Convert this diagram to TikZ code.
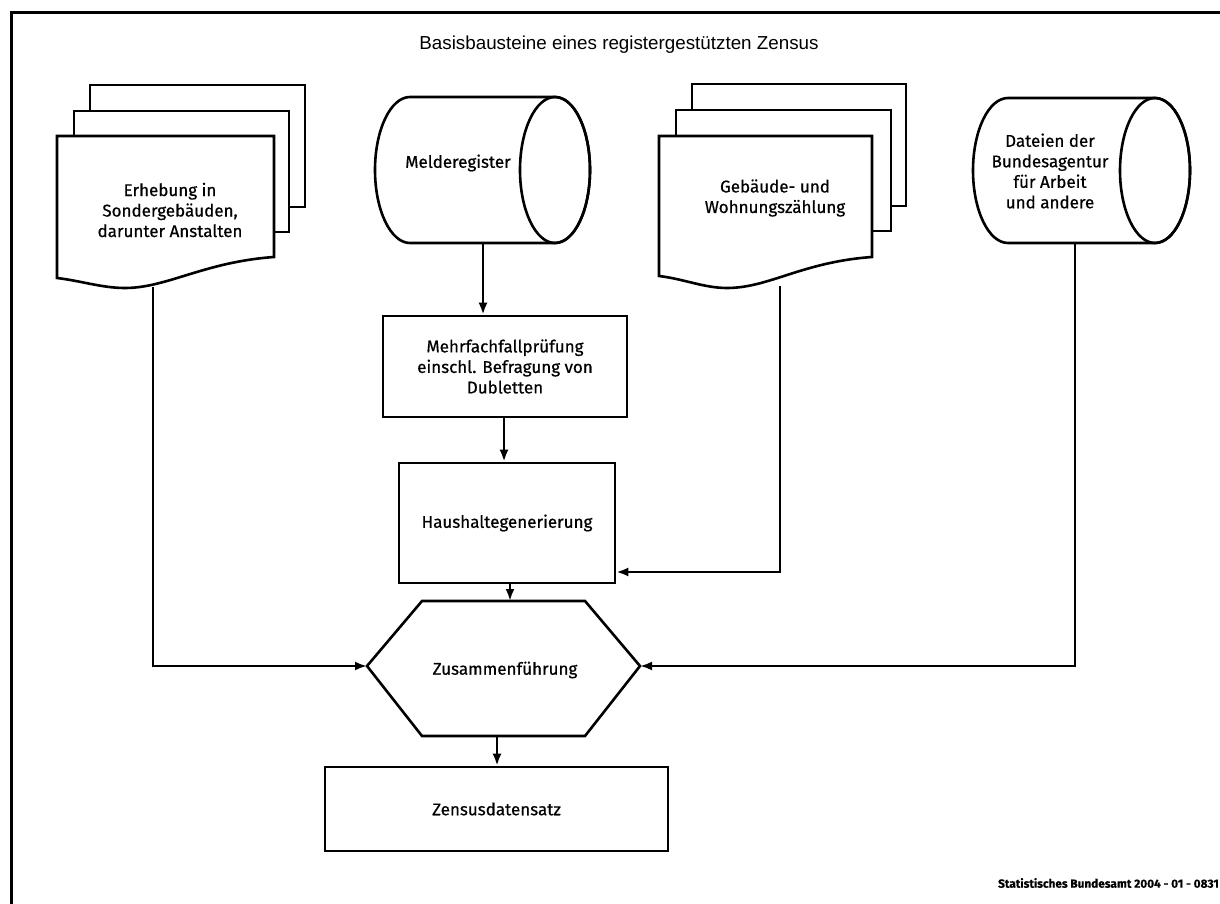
\documentclass[tikz,border=0pt]{standalone}
\usepackage{fontspec}
\setmainfont{Fira Sans}[FakeBold=0.4]
\newfontfamily\nodefont{Fira Sans}[FakeBold=0.6]
\newfontfamily\titlefont{Liberation Sans}
\usetikzlibrary{arrows.meta}
\tikzset{
  ln/.style={line width=2.6pt, line join=miter},
  arr/.style={ln, -{Latex[length=12pt,width=9pt]}},
  lbl/.style={font=\nodefont\fontsize{17}{20.5}\selectfont, align=center, inner sep=0pt},
  boxnode/.style={ln, draw, fill=white, lbl},
  pagefill/.style={ln, draw, fill=white},
}
% document page with wavy bottom: #1 left, #2 right, #3 top, #4 right-bottom y, #5 left-bottom y, #6 lowest y
\newcommand\wavydoc[6]{%
  \filldraw[pagefill] (#1,#3) -- (#2,#3) -- (#2,#4)
    .. controls ({#2-70},{#4+5}) and ({#1+110},#6) .. ({#1+68},#6)
    .. controls ({#1+45},#6) and ({#1+25},{#5+3}) .. (#1,#5) -- cycle;}
% cylinder lying: #1 left, #2 right, #3 top, #4 bottom, #5 rx
\newcommand\lyingcyl[5]{%
  \pgfmathsetmacro\cym{(#3+#4)/2}%
  \pgfmathsetmacro\cry{(#4-#3)/2}%
  \filldraw[pagefill] ({#1+#5},#3) -- ({#2-#5},#3)
    arc[start angle=-90, end angle=90, x radius=#5, y radius=\cry]
    -- ({#1+#5},#4)
    arc[start angle=90, end angle=270, x radius=#5, y radius=\cry] -- cycle;
  \draw[ln] ({#2-#5},\cym) ellipse[x radius=#5, y radius=\cry];}
\begin{document}
\begin{tikzpicture}[x=1pt,y=-1pt]
\useasboundingbox (0,0) rectangle (1220,904);
% frame
\draw[line width=3pt] (11,904) -- (11,13) -- (1220,13);
% title
\node[font=\titlefont\fontsize{18.8}{22}\selectfont, inner sep=0pt] (title) at (619,45) {Basisbausteine eines registergestützten Zensus};
% left document stack
\filldraw[pagefill] (90,85) rectangle (305,207);
\filldraw[pagefill] (74,111) rectangle (289,232);
\wavydoc{57}{274}{136}{257}{278}{288}
\node[lbl] (erh) at (170,210) {Erhebung in\\Sondergebäuden,\\darunter Anstalten};
\coordinate (erhB) at (153,287);
% Melderegister cylinder
\lyingcyl{375}{590}{97}{243}{35}
\node[lbl] (mel) at (458,163) {Melderegister};
\coordinate (melB) at (483,243);
% Gebäude stack
\filldraw[pagefill] (692,84) rectangle (906,206);
\filldraw[pagefill] (676,110) rectangle (891,231);
\wavydoc{659}{872}{136}{257}{276}{288}
\node[lbl] (geb) at (775,198) {Gebäude- und\\Wohnungszählung};
\coordinate (gebB) at (780,286);
% Dateien cylinder
\lyingcyl{973}{1190}{98}{243}{35}
\node[lbl] (dat) at (1050,171) {Dateien der\\Bundesagentur\\für Arbeit\\und andere};
\coordinate (datB) at (1075,243);
% process boxes
\node[boxnode, minimum width=244pt, minimum height=101pt] (mf) at (505,366.5) {Mehrfachfallprüfung\\einschl. Befragung von\\Dubletten};
\node[boxnode, minimum width=216pt, minimum height=120pt] (hh) at (507,523) {Haushaltegenerierung};
% hexagon
\coordinate (zuL) at (367,666);
\coordinate (zuR) at (640,666);
\filldraw[pagefill] (zuL) -- (422,601) -- (585,601) -- (zuR) -- (585,736) -- (422,736) -- cycle;
\node[lbl] (zu) at (505,670) {Zusammenführung};
\coordinate (zuT) at (510,601);
\coordinate (zuB) at (497,736);
% result box
\node[boxnode, minimum width=343pt, minimum height=84pt] (zd) at (496.5,809) {Zensusdatensatz};
% connectors
\draw[arr] (melB) -- (melB |- mf.north);
\draw[arr] (mf.south -| 504,0) -- (hh.north -| 504,0);
\draw[arr] (gebB) |- (hh.east |- 0,572);
\draw[arr] (hh.south -| zuT) -- (zuT);
\draw[arr] (erhB) |- (zuL);
\draw[arr] (datB) |- (zuR);
\draw[arr] (zuB) -- (zuB |- zd.north);
% footer
\node[anchor=east, font=\bfseries\fontsize{11.8}{13}\selectfont, inner sep=0pt] (src) at (1219,883) {Statistisches Bundesamt 2004 - 01 - 0831};
\end{tikzpicture}
\end{document}
